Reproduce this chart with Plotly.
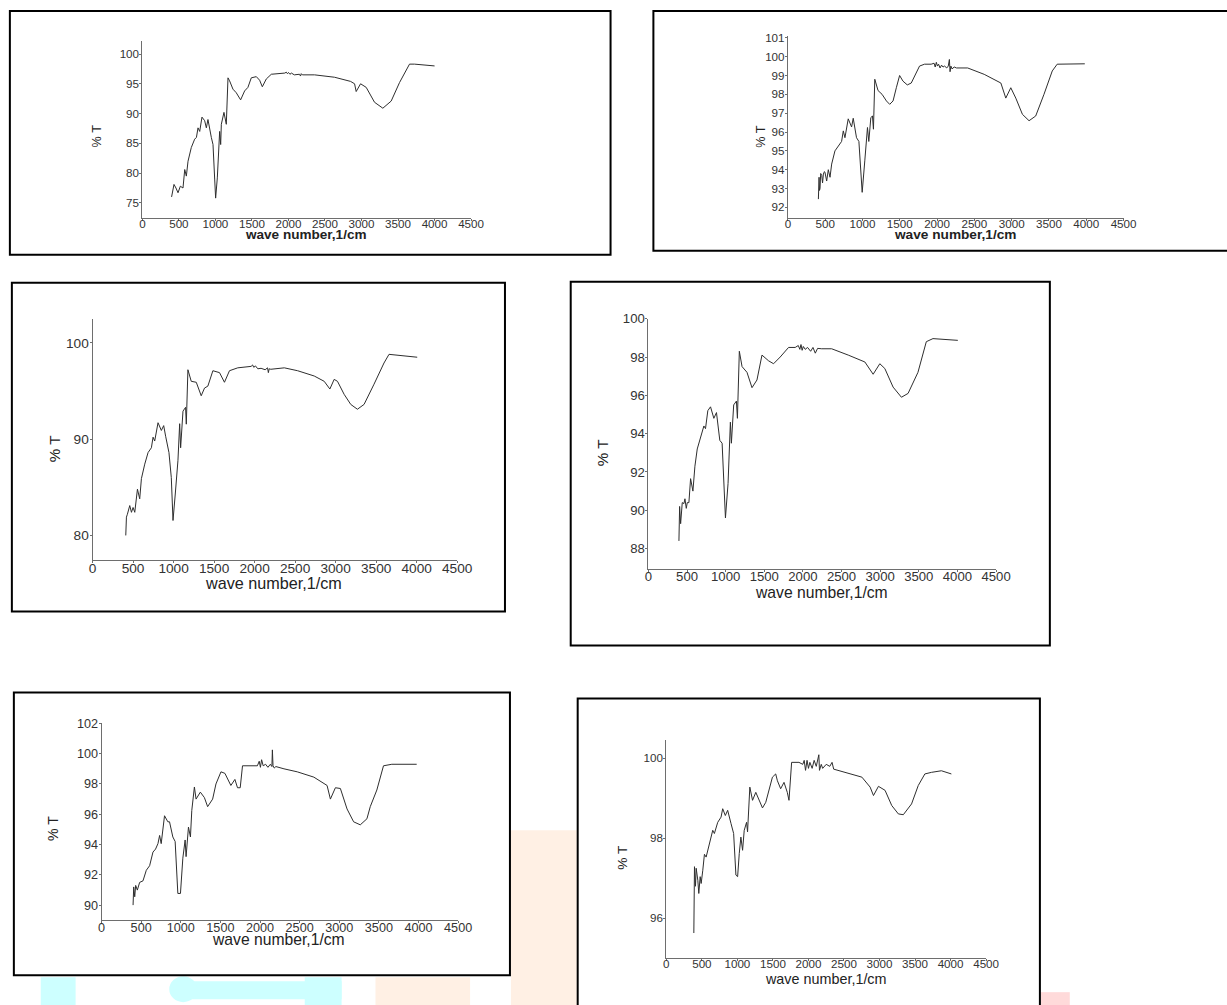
import plotly.graph_objects as go

W, H = 1227, 1005

# ---------------- data ----------------
x_tick_vals = [0, 500, 1000, 1500, 2000, 2500, 3000, 3500, 4000, 4500]
x_title = "wave number,1/cm"
y_title = "% T"

p1_wn = [400, 418, 433, 460, 488, 520, 556, 580, 602, 625, 670, 716, 740, 762, 785, 816, 853, 876, 898, 944,
         967, 990, 1003, 1026, 1058, 1072, 1081, 1117, 1149, 1172, 1194, 1240, 1285, 1345, 1400, 1445, 1491,
         1560, 1605, 1642, 1696, 1765, 1900, 1950, 1970, 1985, 2000, 2020, 2040, 2080, 2150, 2165, 2175, 2190,
         2357, 2631, 2850, 2905, 2927, 2987, 3064, 3178, 3292, 3406, 3520, 3657, 3725, 4000]
p1_t = [76.0, 77.2, 78.1, 77.5, 76.7, 77.8, 77.5, 80.6, 79.5, 82.0, 84.3, 85.7, 86.0, 87.6, 87.0, 89.4, 88.8,
        87.6, 89.0, 86.0, 84.8, 79.0, 75.8, 79.2, 87.0, 84.8, 88.2, 90.2, 88.2, 96.0, 95.5, 94.1, 93.5, 92.3,
        93.8, 94.4, 96.0, 96.2, 95.6, 94.5, 95.8, 96.6, 96.7, 96.8, 96.95, 96.7, 96.9, 96.6, 96.8, 96.5, 96.6,
        96.3, 96.7, 96.5, 96.5, 96.1, 95.4, 95.0, 93.7, 95.0, 94.4, 91.9, 90.9, 92.1, 95.2, 98.3, 98.3, 98.0]
p1_yticks = [75, 80, 85, 90, 95, 100]

p2_wn = [409, 413, 418, 424, 431, 440, 454, 465, 476, 490, 498, 520, 542, 565, 587, 631, 676, 720, 743, 765,
         809, 854, 876, 920, 952, 996, 1031, 1067, 1085, 1112, 1134, 1147, 1165, 1209, 1263, 1321, 1365, 1410,
         1454, 1498, 1543, 1601, 1654, 1699, 1765, 1832, 1921, 1960, 1975, 1990, 2005, 2020, 2040, 2060, 2080,
         2100, 2130, 2150, 2165, 2174, 2185, 2200, 2230, 2260, 2410, 2632, 2855, 2921, 2988, 3055, 3144, 3233,
         3322, 3433, 3544, 3610, 3788, 3980]
p2_t = [92.44, 93.3, 93.6, 92.9, 93.0, 93.8, 93.7, 93.3, 93.77, 93.9, 93.85, 93.4, 94.0, 93.6, 94.3, 95.0,
        95.27, 95.5, 96.06, 95.7, 96.7, 96.27, 96.73, 95.7, 95.5, 92.8, 94.47, 96.24, 95.5, 96.77, 96.85, 96.15,
        98.8, 98.2, 98.0, 97.65, 97.47, 97.65, 98.35, 99.0, 98.7, 98.5, 98.6, 98.97, 99.5, 99.6, 99.6, 99.65,
        99.45, 99.7, 99.5, 99.6, 99.4, 99.55, 99.45, 99.5, 99.4, 99.5, 99.85, 99.2, 99.5, 99.35, 99.45, 99.4,
        99.4, 99.06, 98.6, 97.8, 98.35, 97.8, 96.94, 96.6, 96.85, 98.0, 99.24, 99.6, 99.62, 99.62]
p2_yticks = [92, 93, 94, 95, 96, 97, 98, 99, 100, 101]

p3_wn = [410, 418, 430, 439, 459, 480, 500, 521, 554, 582, 603, 644, 685, 726, 747, 767, 808, 849, 878, 902,
         943, 972, 993, 1021, 1054, 1075, 1087, 1116, 1148, 1157, 1177, 1218, 1280, 1341, 1382, 1423, 1485,
         1567, 1628, 1690, 1792, 1957, 1975, 1990, 2010, 2040, 2080, 2130, 2160, 2170, 2180, 2200, 2285, 2367,
         2531, 2736, 2859, 2929, 2982, 3023, 3105, 3187, 3269, 3351, 3474, 3597, 3659, 3761, 4007]
p3_t = [80.0, 81.9, 82.2, 82.6, 83.1, 82.4, 82.9, 82.4, 84.8, 83.8, 85.9, 87.4, 88.6, 89.1, 90.2, 89.8, 91.7,
        90.9, 91.4, 90.3, 88.6, 86.0, 81.55, 84.3, 87.8, 91.6, 89.1, 92.9, 93.3, 91.55, 97.2, 96.0, 95.9, 94.5,
        95.3, 95.5, 97.1, 96.9, 95.9, 97.1, 97.4, 97.55, 97.7, 97.45, 97.6, 97.3, 97.35, 97.2, 97.4, 96.9, 97.3,
        97.25, 97.3, 97.4, 97.1, 96.55, 96.0, 95.2, 96.2, 96.0, 94.65, 93.6, 93.1, 93.6, 95.7, 97.9, 98.8, 98.7,
        98.5]
p3_yticks = [80, 90, 100]

p4_wn = [395, 404, 417, 438, 460, 473, 490, 503, 524, 546, 576, 602, 632, 675, 718, 739, 769, 804, 847, 881,
         924, 954, 997, 1031, 1061, 1074, 1104, 1139, 1152, 1177, 1212, 1276, 1341, 1405, 1470, 1556, 1620,
         1706, 1814, 1900, 1940, 1960, 1975, 1990, 2005, 2030, 2060, 2100, 2130, 2160, 2190, 2243, 2372, 2587,
         2802, 2909, 2995, 3060, 3167, 3275, 3361, 3489, 3597, 3683, 3833, 4005]
p4_t = [88.4, 90.2, 89.3, 90.4, 90.35, 90.6, 90.1, 90.4, 90.4, 91.65, 91.0, 92.3, 93.2, 93.8, 94.4, 94.26,
        95.2, 95.4, 94.8, 95.1, 93.65, 93.5, 89.6, 91.4, 94.6, 93.5, 95.5, 95.7, 94.8, 98.3, 97.5, 97.2, 96.4,
        96.8, 98.1, 97.8, 97.65, 98.0, 98.5, 98.5, 98.6, 98.4, 98.65, 98.35, 98.55, 98.4, 98.5, 98.3, 98.5, 98.2,
        98.45, 98.43, 98.43, 98.1, 97.74, 97.1, 97.65, 97.4, 96.43, 95.9, 96.1, 97.2, 98.8, 98.96, 98.9, 98.87]
p4_yticks = [88, 90, 92, 94, 96, 98, 100]

p5_wn = [398, 406, 419, 431, 452, 481, 523, 565, 607, 649, 682, 712, 733, 753, 795, 837, 858, 900, 929, 963,
         996, 1026, 1055, 1067, 1097, 1122, 1139, 1172, 1193, 1247, 1298, 1339, 1402, 1444, 1507, 1557, 1632,
         1683, 1716, 1750, 1779, 1967, 1990, 2005, 2020, 2040, 2070, 2100, 2130, 2150, 2156, 2164, 2180, 2200,
         2302, 2470, 2679, 2846, 2888, 2951, 3014, 3098, 3181, 3265, 3349, 3391, 3474, 3558, 3663, 3977]
p5_t = [90.0, 91.2, 90.55, 91.3, 90.99, 91.5, 91.6, 92.3, 92.6, 93.5, 93.7, 94.06, 94.6, 94.06, 95.9, 95.5,
        95.5, 94.5, 94.2, 90.77, 90.77, 93.1, 94.3, 93.2, 95.15, 94.5, 96.25, 97.8, 97.0, 97.46, 97.1, 96.5,
        97.0, 98.0, 98.8, 98.7, 97.9, 98.3, 97.75, 97.75, 99.2, 99.2, 99.5, 99.1, 99.6, 99.2, 99.3, 99.1, 99.3,
        99.15, 100.25, 99.2, 99.05, 99.15, 99.0, 98.8, 98.45, 97.9, 97.0, 97.75, 97.7, 96.35, 95.5, 95.3, 95.7,
        96.5, 97.6, 99.2, 99.3, 99.3]
p5_yticks = [90, 92, 94, 96, 98, 100, 102]

p6_wn = [387, 388, 396, 410, 420, 443, 457, 476, 490, 513, 536, 560, 606, 653, 676, 723, 770, 793, 830, 863,
         910, 947, 979, 1003, 1026, 1049, 1073, 1096, 1129, 1143, 1175, 1213, 1259, 1306, 1353, 1399, 1446,
         1493, 1539, 1563, 1609, 1656, 1702, 1726, 1763, 1866, 1920, 1940, 1959, 1980, 2000, 2020, 2052, 2080,
         2110, 2130, 2146, 2155, 2180, 2200, 2250, 2300, 2332, 2355, 2519, 2752, 2868, 2915, 2985, 3078, 3172,
         3265, 3335, 3451, 3545, 3638, 3731, 3871, 4011]
p6_t = [95.63, 96.4, 97.29, 96.8, 97.25, 96.95, 96.62, 97.04, 96.87, 97.2, 97.6, 97.53, 97.87, 98.2, 98.12,
        98.4, 98.53, 98.74, 98.57, 98.7, 98.37, 98.12, 97.08, 97.04, 97.62, 98.03, 97.7, 98.2, 98.4, 98.16,
        99.28, 98.95, 99.15, 98.95, 98.76, 98.9, 99.24, 99.53, 99.61, 99.44, 99.24, 99.4, 99.15, 98.95, 99.9,
        99.9, 99.85, 99.95, 99.7, 99.95, 99.75, 99.9, 99.75, 99.95, 99.8, 99.95, 100.09, 99.7, 99.85, 99.75,
        99.85, 99.8, 99.9, 99.73, 99.65, 99.53, 99.28, 99.07, 99.3, 99.2, 98.82, 98.61, 98.59, 98.86, 99.32,
        99.61, 99.65, 99.69, 99.61]
p6_yticks = [96, 98, 100]

# ---------------- layout specs (target page pixels) ----------------
panels = [
    dict(wn=p1_wn, t=p1_t, yt=p1_yticks, yr=[72.5, 102.2], box=(8, 10, 611, 254), area=(141, 40, 471, 217),
         tfs=11.5, afs=13.4, bold=True, xlab=(305, 233.5), ylab=(95, 135), yfs=12.5, sx=-7),
    dict(wn=p2_wn, t=p2_t, yt=p2_yticks, yr=[91.45, 101.1], box=(654, 10, 1250, 250), area=(789, 35, 1126, 217),
         tfs=11.5, afs=13.5, bold=True, xlab=(957, 234), ylab=(762, 135), yfs=12.5, sx=-7),
    dict(wn=p3_wn, t=p3_t, yt=p3_yticks, yr=[77.5, 102.5], box=(10, 282, 505, 611), area=(91, 318, 457, 559),
         tfs=13.5, afs=16, bold=False, xlab=(273, 583), ylab=(53, 448), yfs=15, sx=-6),
    dict(wn=p4_wn, t=p4_t, yt=p4_yticks, yr=[86.96, 100], box=(571, 281, 1052, 645), area=(649, 318, 998, 568),
         tfs=13, afs=15.5, bold=False, xlab=(823, 592), ylab=(603, 452), yfs=15, sx=-6),
    dict(wn=p5_wn, t=p5_t, yt=p5_yticks, yr=[89.0, 102], box=(12, 692, 510, 975), area=(100, 723, 458, 920),
         tfs=12.5, afs=15.5, bold=False, xlab=(278, 939), ylab=(52, 828), yfs=14, sx=-6),
    dict(wn=p6_wn, t=p6_t, yt=p6_yticks, yr=[95.0, 100.45], box=(578, 698, 1042, 1020), area=(667, 740, 988, 958),
         tfs=11.5, afs=14.2, bold=False, xlab=(827, 979), ylab=(623, 857), yfs=13.5, sx=-7),
]

FONT = "Liberation Sans, Arial, sans-serif"
LINE = "#2e2e2e"
AXIS = "#6e6e6e"

# the photographed page is slightly rescaled/offset relative to the figure; compensate
SX, OX = 0.9875, 2.1
SY, OY = 0.9938, 6.06


def px(x):
    return ((x - OX) / SX) / W


def py(y):
    return 1 - ((y - OY) / SY) / H


def fs(s):
    return s / SX


fig = go.Figure()
shapes = []
annotations = []

# faint watermark pieces at the bottom of the page (drawn below the white boxes)
wm_cyan = "rgb(205,255,255)"
wm_peach = "rgb(255,240,228)"
wm_pink = "rgb(255,218,218)"
for (x0, y0, x1, y1, c) in [
    (39, 977, 74, 1010, wm_cyan),
    (180, 981, 341, 999, wm_cyan),
    (304, 977, 341, 1010, wm_cyan),
    (375, 977, 470, 1010, wm_peach),
    (511, 830, 577, 1010, wm_peach),
    (1043, 992, 1072, 1010, wm_pink),
]:
    shapes.append(dict(type="rect", xref="paper", yref="paper", x0=px(x0), x1=px(x1), y0=py(y1), y1=py(y0),
                       fillcolor=c, line=dict(width=0), layer="below"))
shapes.append(dict(type="circle", xref="paper", yref="paper", x0=px(168), x1=px(196), y0=py(1002), y1=py(976),
                   fillcolor=wm_cyan, line=dict(width=0), layer="below"))

layout_axes = {}
for i, p in enumerate(panels, start=1):
    xa = "x" if i == 1 else f"x{i}"
    ya = "y" if i == 1 else f"y{i}"
    fig.add_trace(go.Scatter(x=p["wn"], y=p["t"], mode="lines", xaxis=xa, yaxis=ya,
                             line=dict(color=LINE, width=1), showlegend=False, hoverinfo="skip"))
    l, t, r, b = p["area"]
    axis_common = dict(showline=True, linecolor=AXIS, linewidth=1, ticks="outside", ticklen=2,
                       tickcolor=AXIS, tickwidth=1, showgrid=False, zeroline=False, fixedrange=True,
                       tickfont=dict(family=FONT, size=fs(p["tfs"]), color="#333333"))
    layout_axes["xaxis" if i == 1 else f"xaxis{i}"] = dict(
        domain=[px(l), px(r)], range=[0, 4500], tickvals=x_tick_vals,
        anchor=ya, ticklabelstandoff=int(p["sx"]), **axis_common)
    layout_axes["yaxis" if i == 1 else f"yaxis{i}"] = dict(
        domain=[py(b), py(t)], range=p["yr"], tickvals=p["yt"], anchor=xa,
        ticklabelstandoff=-2, **axis_common)

    bl, bt, br, bb = p["box"]
    shapes.append(dict(type="rect", xref="paper", yref="paper", x0=px(bl), x1=px(br), y0=py(bb), y1=py(bt),
                       fillcolor="white", line=dict(color="black", width=2), layer="below"))

    annotations.append(dict(text=x_title, xref="paper", yref="paper", x=px(p["xlab"][0]), y=py(p["xlab"][1]),
                            xanchor="center", yanchor="middle", showarrow=False,
                            font=dict(family=FONT, size=fs(p["afs"]), color="#222222",
                                      weight="bold" if p["bold"] else "normal")))
    annotations.append(dict(text=y_title, xref="paper", yref="paper", x=px(p["ylab"][0]), y=py(p["ylab"][1]),
                            xanchor="center", yanchor="middle", showarrow=False, textangle=-90,
                            font=dict(family=FONT, size=fs(p["yfs"]), color="#222222")))

fig.update_layout(width=W, height=H, margin=dict(l=0, r=0, t=0, b=0), autosize=False,
                  paper_bgcolor="white", plot_bgcolor="rgba(0,0,0,0)", hovermode=False,
                  shapes=shapes, annotations=annotations, **layout_axes)

# place the figure flush with the page corner (no default body margin)
fig.write_html("out.html", config={"displayModeBar": False, "staticPlot": True},
               post_script="document.body.style.margin='0';document.body.style.padding='0';"
                           "document.documentElement.style.overflow='hidden';")
